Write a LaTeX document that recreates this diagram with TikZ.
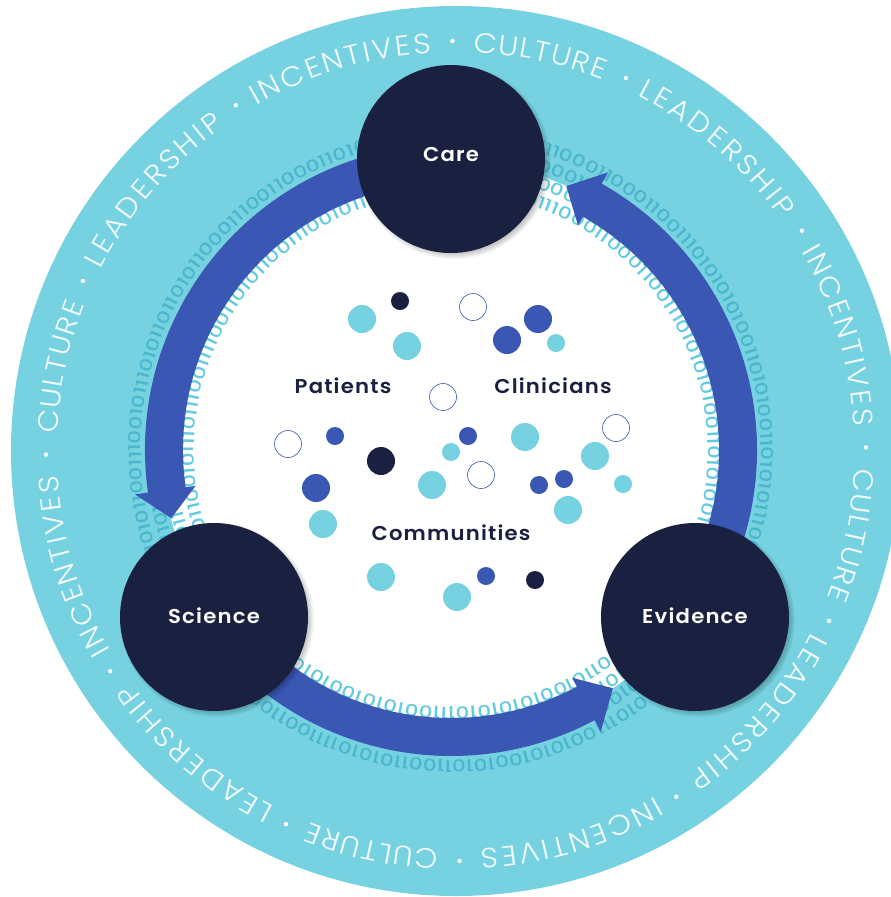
\documentclass[tikz,border=0pt]{standalone}
\usepackage{fontspec}
\usetikzlibrary{decorations.text}
\setmainfont{Poppins}
\newfontfamily\ringfont[FakeStretch=1.08]{Poppins Light}
\newfontfamily\bitfont[FakeStretch=1.3]{Poppins Medium}
\newfontfamily\labelfont[LetterSpace=6,FakeStretch=1.06]{Poppins SemiBold}
\definecolor{teal}{HTML}{76D2E0}
\definecolor{bitdark}{HTML}{4AB6CD}
\definecolor{bitlight}{HTML}{62CBDD}
\definecolor{arrowblue}{HTML}{3957B3}
\definecolor{navy}{HTML}{1A2040}
\tikzset{
  hub/.style={circle,fill=navy,minimum size=188pt,inner sep=0pt},
  hublabel/.style={text=white,font=\labelfont\fontsize{20}{20}\selectfont,anchor=center,inner sep=0pt},
  grouplabel/.style={text=navy,font=\labelfont\fontsize{20}{20}\selectfont,anchor=center,inner sep=0pt},
  bigdot/.style={circle,minimum size=28pt,inner sep=0pt},
  smalldot/.style={circle,minimum size=18pt,inner sep=0pt},
  tealfill/.style={fill=teal},
  bluefill/.style={fill=arrowblue},
  navyfill/.style={fill=navy},
  hollow/.style={draw=arrowblue,line width=0.6pt,fill=white,minimum size=27pt},
}
\newcommand\ringword[3]{%
  \path[decorate,decoration={text along path,text align=fit to path,
    text={|\ringfont\fontsize{28}{28}\selectfont\color{white!92!teal}|#3}}]
    ([shift={(456,-451)}]#1:399) arc[start angle=#1,end angle=#2,radius=399];}
\newcommand\bitringi[3]{%
  \path[decorate,decoration={text along path,
    text={|\bitfont\fontsize{16.5}{16.5}\selectfont\color{#3}|#1}}]
    ([shift={(451,-450)}]90:#2) arc[start angle=90,end angle=-270,radius=#2];}
\newcommand\bitring[3]{\expandafter\bitringi\expandafter{#1}{#2}{#3}}
\newcommand\flowarrow[3]{%
  \fill[arrowblue,shift={(451,-450)}] (#1:306) arc[start angle=#1,end angle=#2,radius=306]
    -- (#2:319) -- (#3:288) -- (#2:258) -- (#2:268)
    arc[start angle=#2,end angle=#1,radius=268] -- cycle;}
\newcommand\softshadow[2]{%
  \foreach \s in {0,1,...,7}{\fill[black,opacity=0.035] (#1+3,#2-3) circle[radius=90+\s];}}
\def\bitsA{0111101101110001100011001110101010100110101001101010111001010101101001010101011100101010010101100110101011110011001011101110011110011010110011100101110101}
\def\bitsB{1011010110001110011000110101110010101001010101110101001100101101010110100101011010011100101011001010101110010101010011011101101110011001010110111000110011}
\edef\bitsAA{\bitsA\bitsB}
\edef\bitsBB{\bitsB\bitsA}
\begin{document}
\begin{tikzpicture}[x=1pt,y=1pt]
\useasboundingbox (0,0) rectangle (891,-897);
\clip (0,0) rectangle (891,-897);
\fill[white] (0,0) rectangle (891,-897);
\fill[teal] (456,-451) circle[radius=445];
\fill[white] (451,-450) circle[radius=288];
% outer ring words
\foreach \k in {0,90,180,270}{
  \pgfmathsetmacro\wa{30+\k}\pgfmathsetmacro\wb{3.5+\k}
  \ringword{\wa}{\wb}{INCENTIVES}
  \pgfmathsetmacro\wa{-2.5+\k}\pgfmathsetmacro\wb{-21.5+\k}
  \ringword{\wa}{\wb}{CULTURE}
  \pgfmathsetmacro\wa{-27+\k}\pgfmathsetmacro\wb{-54.5+\k}
  \ringword{\wa}{\wb}{LEADERSHIP}
  \foreach \b in {0.5,-24.5,-57.5}{
    \fill[white,shift={(456,-451)}] (\b+\k:410) circle[radius=2.2];
  }
}
% binary rings
\bitring{\bitsAA}{310}{bitdark}
\bitring{\bitsBB}{292}{bitdark}
\bitring{\bitsBB}{275}{bitlight}
\bitring{\bitsAA}{257}{bitlight}
% arrows
\flowarrow{100}{188}{193.7}
\flowarrow{233}{298}{304.2}
\flowarrow{-25}{60.5}{66.4}
% hubs
\softshadow{451}{-159}
\softshadow{214}{-617}
\softshadow{695}{-617}
\node[hub] (care) at (451,-159) {};
\node[hub] (science) at (214,-617) {};
\node[hub] (evidence) at (695,-617) {};
\node[hublabel] (careL) at (451,-155) {Care};
\node[hublabel] (scienceL) at (214,-616) {Science};
\node[hublabel] (evidenceL) at (695,-616) {Evidence};
\node[grouplabel] (patients) at (343,-386) {Patients};
\node[grouplabel] (clinicians) at (553,-386) {Clinicians};
\node[grouplabel] (communities) at (451,-533) {Communities};
% dots
\foreach \n/\x/\y in {a/362/319,b/407/346,c/525/437,d/432/485,e/595/456,f/568/510,g/323/524,h/381/577,i/457/597}
  \node[bigdot,tealfill] (t\n) at (\x,-\y) {};
\foreach \n/\x/\y in {a/556/343,b/451/452,c/623/484}
  \node[smalldot,tealfill] (ts\n) at (\x,-\y) {};
\foreach \n/\x/\y in {a/507/340,b/538/319,c/316/488}
  \node[bigdot,bluefill] (b\n) at (\x,-\y) {};
\foreach \n/\x/\y in {a/335/436,b/468/436,c/539/485,d/564/479,e/486/576}
  \node[smalldot,bluefill] (bs\n) at (\x,-\y) {};
\node[bigdot,navyfill] (na) at (381,-461) {};
\foreach \n/\x/\y in {b/400/301,c/535/580}
  \node[smalldot,navyfill] (n\n) at (\x,-\y) {};
\foreach \n/\x/\y in {a/473/307,b/443/397,c/288/444,d/481/475,e/616/428}
  \node[bigdot,hollow] (h\n) at (\x,-\y) {};
\end{tikzpicture}
\end{document}
